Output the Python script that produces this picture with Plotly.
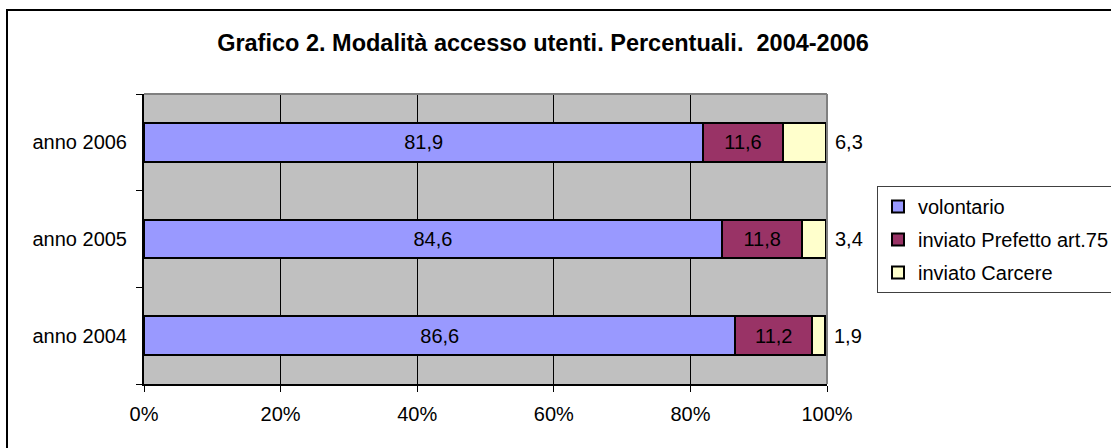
import plotly.graph_objects as go

categories = ["anno 2004", "anno 2005", "anno 2006"]
volontario = [86.6, 84.6, 81.9]
prefetto = [11.2, 11.8, 11.6]
carcere = [1.9, 3.4, 6.3]
series_names = ["volontario", "inviato Prefetto art.75", "inviato Carcere"]
x_ticks = [0, 20, 40, 60, 80, 100]
x_tick_labels = ["0%", "20%", "40%", "60%", "80%", "100%"]
title_text = "Grafico 2. Modalità accesso utenti. Percentuali.  2004-2006"

colors = ["#9999FF", "#993366", "#FFFFCC"]
FONT = "Arial, Liberation Sans, sans-serif"

W, H = 1111, 448
L, R, T, B = 144, 827, 94, 384


def fmt(v):
    return f"{v:.1f}".replace(".", ",")


fig = go.Figure()
for i, (name, vals) in enumerate(zip(series_names, [volontario, prefetto, carcere])):
    show_text = i < 2
    fig.add_trace(go.Bar(
        y=categories, x=vals, name=name, orientation="h",
        marker=dict(color=colors[i], line=dict(color="black", width=2)),
        text=[fmt(v) for v in vals] if show_text else None,
        textposition="inside" if show_text else "none",
        insidetextanchor="middle",
        textangle=0,
        constraintext="none",
        textfont=dict(family=FONT, size=20, color="black"),
        legendgroup=f"g{i}",
        hovertemplate="%{y}: %{x}<extra>" + name + "</extra>",
    ))

# outside labels for the last segment
for cat, a, b, c in zip(categories, volontario, prefetto, carcere):
    fig.add_annotation(x=a + b + c, y=cat, text=fmt(c), showarrow=False,
                       xanchor="left", xshift=7,
                       font=dict(family=FONT, size=20, color="black"))


def px_x(p):
    return (p - L) / (R - L)


def px_y(p):
    return (B - p) / (B - T)


# gray top and right border of the plot area
fig.add_shape(type="line", xref="paper", yref="paper", x0=0, x1=1, y0=1, y1=1,
              line=dict(color="#808080", width=2), layer="above")
fig.add_shape(type="line", xref="paper", yref="paper", x0=1, x1=1, y0=0, y1=1,
              line=dict(color="#808080", width=2), layer="above")
# outer chart frame (only left & top visible)
fig.add_shape(type="rect", xref="paper", yref="paper",
              x0=px_x(7), x1=px_x(1130), y0=px_y(10), y1=px_y(470),
              line=dict(color="black", width=2), layer="below")

fig.update_layout(
    width=W, height=H,
    margin=dict(l=L, r=W - R, t=T, b=H - B, autoexpand=False),
    paper_bgcolor="white", plot_bgcolor="#C0C0C0",
    barmode="stack", bargap=0.6,
    font=dict(family=FONT, size=20, color="black"),
    title=dict(text="<b>" + title_text + "</b>", x=543 / W, xanchor="center",
               xref="container", yref="container", y=1 - 43 / H, yanchor="middle",
               font=dict(family=FONT, size=23.5, color="black")),
    xaxis=dict(range=[0, 100], tickvals=x_ticks, ticktext=x_tick_labels,
               showgrid=True, gridcolor="black", gridwidth=1,
               showline=True, linecolor="black", linewidth=2,
               ticks="outside", ticklen=6, tickcolor="black", tickwidth=1,
               ticklabelstandoff=5, zeroline=False, fixedrange=True),
    yaxis=dict(categoryorder="array", categoryarray=categories,
               showgrid=False, showline=True, linecolor="black", linewidth=2,
               ticks="outside", ticklen=6, tickcolor="black", tickwidth=1,
               tickson="boundaries", ticklabelstandoff=11, fixedrange=True),
    legend=dict(x=px_x(877), y=px_y(186), xanchor="left", yanchor="top",
                bgcolor="white", bordercolor="#404040", borderwidth=1,
                traceorder="grouped", tracegroupgap=4,
                font=dict(family=FONT, size=20, color="black")),
    showlegend=True,
)

fig.write_html("out.html", config={"displayModeBar": False},
               post_script="document.body.style.margin='0';")
